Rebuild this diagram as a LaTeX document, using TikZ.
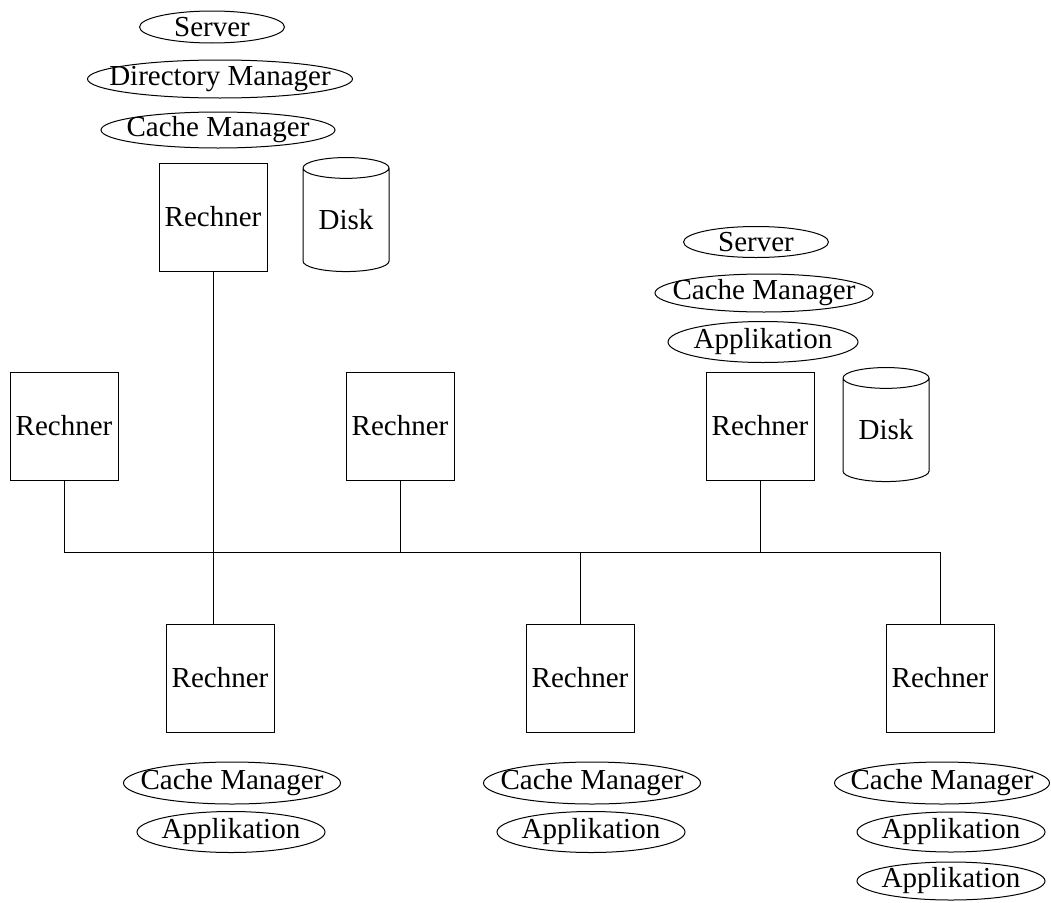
\documentclass[tikz,border=0pt]{standalone}
\usepackage{fontspec}
\setmainfont{Liberation Serif}
\usepackage{tikz}
\usetikzlibrary{positioning, shapes.geometric, calc}

\tikzset{
  rechner/.style={draw, line width=1pt, minimum width=108, minimum height=108, inner sep=0pt},
  disk/.style={draw, line width=1pt, cylinder, shape border rotate=90, aspect=0.38,
    minimum width=86, minimum height=114, inner sep=0pt},
  proc/.style={draw, line width=1pt, ellipse, inner sep=-40pt, minimum height=38},
  wire/.style={line width=1pt}
}

\begin{document}
\begin{tikzpicture}[x=1pt, y=-1pt, font=\fontsize{29}{34}\selectfont]
  \useasboundingbox (0,0) rectangle (1051,902);

  % Server mit Directory Manager
  \node[proc, minimum width=145, minimum height=32] (sA1) at (212,27) {Server};
  \node[proc, minimum width=265] (sA2) at (220,79) {Directory Manager};
  \node[proc, minimum width=234, minimum height=36] (sA3) at (218,130) {Cache Manager};
  \node[rechner] (rA) at (213,217) {Rechner};
  \node[disk] (dA) at (346,220) {Disk};

  % obere Reihe
  \node[rechner] (rB) at (64,426) {Rechner};
  \node[rechner] (rC) at (400,426) {Rechner};
  \node[rechner] (rD) at (760,426) {Rechner};
  \node[disk] (dD) at (886,430) {Disk};
  \node[proc, minimum width=145, minimum height=31] (sD1) at (756,242) {Server};
  \node[proc, minimum width=218] (sD2) at (764,293) {Cache Manager};
  \node[proc, minimum width=190, minimum height=41] (sD3) at (763,342) {Applikation};

  % untere Reihe
  \node[rechner] (rE) at (220,678) {Rechner};
  \node[rechner] (rF) at (580,678) {Rechner};
  \node[rechner] (rG) at (940,678) {Rechner};

  \node[proc, minimum width=217, minimum height=42] (sE1) at (232,783) {Cache Manager};
  \node[proc, minimum width=188, minimum height=41] (sE2) at (231,832) {Applikation};
  \node[proc, minimum width=217, minimum height=42] (sF1) at (592,783) {Cache Manager};
  \node[proc, minimum width=188, minimum height=41] (sF2) at (591,832) {Applikation};
  \node[proc, minimum width=215, minimum height=42] (sG1) at (942,783) {Cache Manager};
  \node[proc, minimum width=188, minimum height=40] (sG2) at (951,832) {Applikation};
  \node[proc, minimum width=188, minimum height=38] (sG3) at (951,881) {Applikation};

  % Bus
  \coordinate (busW) at (64,552);
  \coordinate (busE) at (940,552);
  \draw[wire] (busW) -- (busE);

  \draw[wire] (rA.south) -- (rA.south |- rE.north);
  \foreach \r in {rB,rC,rD}
    \draw[wire] (\r.south) -- (\r.south |- busW);
  \foreach \r in {rF,rG}
    \draw[wire] (\r.north) -- (\r.north |- busW);
\end{tikzpicture}
\end{document}
